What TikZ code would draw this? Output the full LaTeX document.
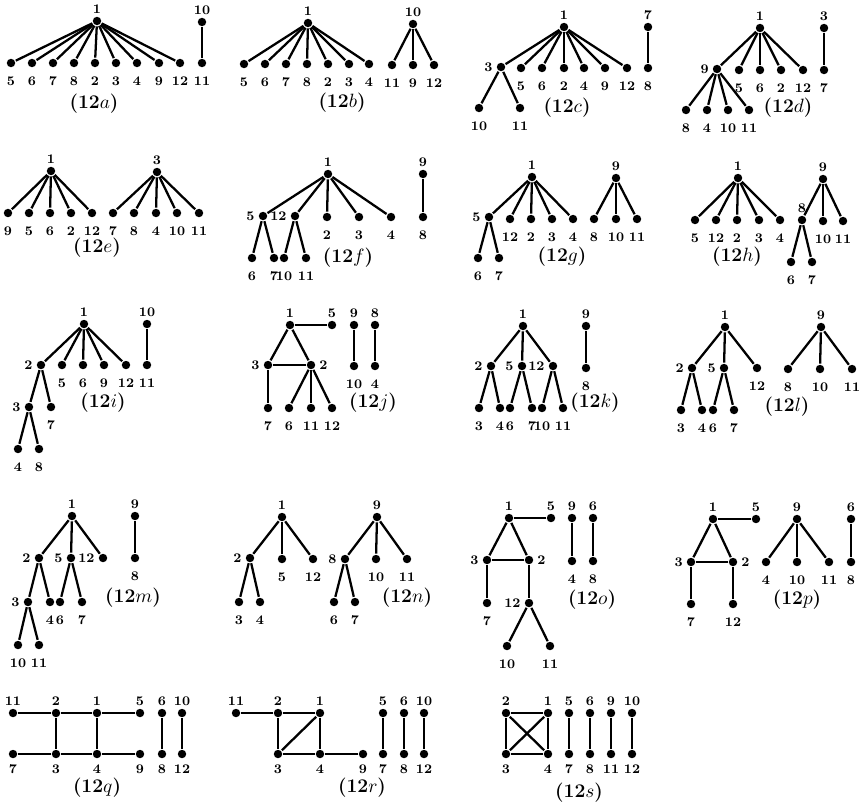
\documentclass[tikz,border=0pt]{standalone}
\usepackage{amsmath}
\usepackage{tikz}

\newcommand{\panelcap}[1]{\textbf{(12}$#1$\textbf{)}}

\tikzset{
  vtx/.style={circle, fill=black, inner sep=0pt, minimum size=4.8pt},
  lbl/.style={font=\bfseries\fontsize{7.5}{8}\selectfont, inner sep=0.6pt},
  lbup/.style={label={[lbl, label distance=0pt]above:#1}},
  lbdn/.style={label={[lbl, label distance=3.6pt]below:#1}},
  lbdb/.style={label={[lbl, label distance=1.6pt]below:#1}},
  lblf/.style={label={[lbl, label distance=0.5pt]left:#1}},
  lbrt/.style={label={[lbl, label distance=0.5pt]right:#1}},
  capt/.style={font=\fontsize{11}{13}\selectfont, inner sep=0pt},
  edge/.style={line width=1.3pt}
}

\begin{document}
\begin{tikzpicture}[x=0.02cm, y=-0.02cm, every path/.style={edge}]
  \useasboundingbox (0,0) rectangle (861,809);

  % (12a)
  \node[vtx, lbup=1] (a1) at (97,21) {};
  \foreach \n/\x in {5/11, 6/32, 7/53, 8/74, 2/95, 3/116, 4/137, 9/159, 12/180} {
    \node[vtx, lbdn=\n] (a\n) at (\x,63) {};
    \draw (a1) -- (a\n);
  }
  \node[vtx, lbup=10] (a10) at (202,22) {};
  \node[vtx, lbdn=11] (a11) at (202,63) {};
  \draw (a10) -- (a11);
  \node[capt] (capa) at (94,104) {\panelcap{a}};

  % (12b)
  \node[vtx, lbup=1] (b1) at (308,23) {};
  \foreach \n/\x in {5/244, 6/265, 7/286, 8/307, 2/328, 3/349, 4/369} {
    \node[vtx, lbdn=\n] (b\n) at (\x,64) {};
    \draw (b1) -- (b\n);
  }
  \node[vtx, lbup=10] (b10) at (413,24) {};
  \foreach \n/\x in {11/392, 9/413, 12/434} {
    \node[vtx, lbdn=\n] (b\n) at (\x,65) {};
    \draw (b10) -- (b\n);
  }
  \node[capt] (capb) at (342,103) {\panelcap{b}};

  % (12c)
  \node[vtx, lbup=1] (c1) at (564,27) {};
  \node[vtx, lblf=3] (c3) at (501,67) {};
  \draw (c1) -- (c3);
  \foreach \n/\x in {5/521, 6/542, 2/564, 4/584, 9/605, 12/627} {
    \node[vtx, lbdn=\n] (c\n) at (\x,68) {};
    \draw (c1) -- (c\n);
  }
  \foreach \n/\x in {10/479, 11/520} {
    \node[vtx, lbdn=\n] (c\n) at (\x,108) {};
    \draw (c3) -- (c\n);
  }
  \node[vtx, lbup=7] (c7) at (648,27) {};
  \node[vtx, lbdn=8] (c8) at (648,68) {};
  \draw (c7) -- (c8);
  \node[capt] (capc) at (567,108) {\panelcap{c}};

  % (12d)
  \node[vtx, lbup=1] (d1) at (760,28) {};
  \node[vtx, lblf=9] (d9) at (717,69) {};
  \draw (d1) -- (d9);
  \foreach \n/\x in {5/739, 6/760, 2/781, 12/803} {
    \node[vtx, lbdn=\n] (d\n) at (\x,70) {};
    \draw (d1) -- (d\n);
  }
  \foreach \n/\x in {8/686, 4/707, 10/728, 11/749} {
    \node[vtx, lbdn=\n] (d\n) at (\x,110) {};
    \draw (d9) -- (d\n);
  }
  \node[vtx, lbup=3] (d3) at (824,28) {};
  \node[vtx, lbdn=7] (d7) at (824,70) {};
  \draw (d3) -- (d7);
  \node[capt] (capd) at (788,108) {\panelcap{d}};

  % (12e)
  \node[vtx, lbup=1] (e1) at (51,171) {};
  \foreach \n/\x in {9/8, 5/29, 6/50, 2/71, 12/92} {
    \node[vtx, lbdn=\n] (e\n) at (\x,213) {};
    \draw (e1) -- (e\n);
  }
  \node[vtx, lbup=3] (e3) at (157,172) {};
  \foreach \n/\x in {7/113, 8/134, 4/156, 10/177, 11/199} {
    \node[vtx, lbdn=\n] (e\n) at (\x,213) {};
    \draw (e3) -- (e\n);
  }
  \node[capt] (cape) at (97,248) {\panelcap{e}};

  % (12f)
  \node[vtx, lbup=1] (f1) at (328,174) {};
  \node[vtx, lblf=5] (f5) at (263,216) {};
  \node[vtx, lblf=12] (f12) at (295,216) {};
  \draw (f1) -- (f5);
  \draw (f1) -- (f12);
  \foreach \n/\x in {2/327, 3/359, 4/391} {
    \node[vtx, lbdn=\n] (f\n) at (\x,217) {};
    \draw (f1) -- (f\n);
  }
  \foreach \p/\n/\x in {5/6/252, 5/7/274, 12/10/284, 12/11/306} {
    \node[vtx, lbdn=\n] (f\n) at (\x,258) {};
    \draw (f\p) -- (f\n);
  }
  \node[vtx, lbup=9] (f9) at (423,174) {};
  \node[vtx, lbdn=8] (f8) at (423,217) {};
  \draw (f9) -- (f8);
  \node[capt] (capf) at (348,258) {\panelcap{f}};

  % (12g)
  \node[vtx, lbup=1] (g1) at (532,177) {};
  \node[vtx, lblf=5] (g5) at (489,217) {};
  \draw (g1) -- (g5);
  \foreach \n/\x in {12/510, 2/531, 3/552, 4/573} {
    \node[vtx, lbdn=\n] (g\n) at (\x,219) {};
    \draw (g1) -- (g\n);
  }
  \foreach \n/\x in {6/478, 7/499} {
    \node[vtx, lbdn=\n] (g\n) at (\x,258) {};
    \draw (g5) -- (g\n);
  }
  \node[vtx, lbup=9] (g9) at (616,178) {};
  \foreach \n/\x in {8/594, 10/616, 11/637} {
    \node[vtx, lbdn=\n] (g\n) at (\x,219) {};
    \draw (g9) -- (g\n);
  }
  \node[capt] (capg) at (562,257) {\panelcap{g}};

  % (12h)
  \node[vtx, lbup=1] (h1) at (738,178) {};
  \foreach \n/\x in {5/695, 12/716, 2/737, 3/759, 4/780} {
    \node[vtx, lbdn=\n] (h\n) at (\x,220) {};
    \draw (h1) -- (h\n);
  }
  \node[vtx, lbup=9] (h9) at (823,179) {};
  \node[vtx, lbup=8] (h8) at (802,220) {};
  \draw (h9) -- (h8);
  \foreach \n/\x in {10/823, 11/843} {
    \node[vtx, lbdn=\n] (h\n) at (\x,221) {};
    \draw (h9) -- (h\n);
  }
  \foreach \n/\x in {6/791, 7/812} {
    \node[vtx, lbdn=\n] (h\n) at (\x,262) {};
    \draw (h8) -- (h\n);
  }
  \node[capt] (caph) at (737,257) {\panelcap{h}};

  % (12i)
  \node[vtx, lbup=1] (i1) at (84,324) {};
  \node[vtx, lblf=2] (i2) at (41,365) {};
  \draw (i1) -- (i2);
  \foreach \n/\x in {5/62, 6/83, 9/104, 12/126} {
    \node[vtx, lbdn=\n] (i\n) at (\x,365) {};
    \draw (i1) -- (i\n);
  }
  \node[vtx, lblf=3] (i3) at (29,407) {};
  \node[vtx, lbdn=7] (i7) at (51,407) {};
  \draw (i2) -- (i3);
  \draw (i2) -- (i7);
  \foreach \n/\x in {4/18, 8/39} {
    \node[vtx, lbdn=\n] (i\n) at (\x,449) {};
    \draw (i3) -- (i\n);
  }
  \node[vtx, lbup=10] (i10) at (147,324) {};
  \node[vtx, lbdn=11] (i11) at (147,365) {};
  \draw (i10) -- (i11);
  \node[capt] (capi) at (103,403) {\panelcap{i}};

  % (12j)
  \node[vtx, lbup=1] (j1) at (290,325) {};
  \node[vtx, lbup=5] (j5) at (332,325) {};
  \node[vtx, lblf=3] (j3) at (268,365) {};
  \node[vtx, lbrt=2] (j2) at (311,365) {};
  \draw (j1) -- (j5);
  \draw (j1) -- (j3);
  \draw (j1) -- (j2);
  \draw (j3) -- (j2);
  \node[vtx, lbdn=7] (j7) at (268,408) {};
  \draw (j3) -- (j7);
  \foreach \n/\x in {6/289, 11/311, 12/332} {
    \node[vtx, lbdn=\n] (j\n) at (\x,408) {};
    \draw (j2) -- (j\n);
  }
  \foreach \t/\b/\x in {9/10/354, 8/4/375} {
    \node[vtx, lbup=\t] (j\t) at (\x,325) {};
    \node[vtx, lbdn=\b] (j\b) at (\x,366) {};
    \draw (j\t) -- (j\b);
  }
  \node[capt] (capj) at (373,403) {\panelcap{j}};

  % (12k)
  \node[vtx, lbup=1] (k1) at (523,326) {};
  \foreach \n/\x in {2/491, 5/522, 12/553} {
    \node[vtx, lblf=\n] (k\n) at (\x,366) {};
    \draw (k1) -- (k\n);
  }
  \foreach \p/\n/\x in {2/3/479, 2/4/500, 5/6/510, 5/7/532, 12/10/542, 12/11/563} {
    \node[vtx, lbdn=\n] (k\n) at (\x,408) {};
    \draw (k\p) -- (k\n);
  }
  \node[vtx, lbup=9] (k9) at (586,326) {};
  \node[vtx, lbdn=8] (k8) at (586,368) {};
  \draw (k9) -- (k8);
  \node[capt] (capk) at (595,403) {\panelcap{k}};

  % (12l)
  \node[vtx, lbup=1] (l1) at (725,327) {};
  \node[vtx, lblf=2] (l2) at (692,368) {};
  \node[vtx, lblf=5] (l5) at (724,368) {};
  \node[vtx, lbdn=12] (l12) at (757,368) {};
  \draw (l1) -- (l2);
  \draw (l1) -- (l5);
  \draw (l1) -- (l12);
  \foreach \p/\n/\x in {2/3/681, 2/4/702, 5/6/713, 5/7/734} {
    \node[vtx, lbdn=\n] (l\n) at (\x,410) {};
    \draw (l\p) -- (l\n);
  }
  \node[vtx, lbup=9] (l9) at (821,327) {};
  \foreach \n/\x in {8/788, 10/820, 11/852} {
    \node[vtx, lbdn=\n] (l\n) at (\x,369) {};
    \draw (l9) -- (l\n);
  }
  \node[capt] (capl) at (787,407) {\panelcap{l}};

  % (12m)
  \node[vtx, lbup=1] (m1) at (72,516) {};
  \foreach \n/\x in {2/39, 5/71, 12/103} {
    \node[vtx, lblf=\n] (m\n) at (\x,558) {};
    \draw (m1) -- (m\n);
  }
  \node[vtx, lblf=3] (m3) at (28,602) {};
  \draw (m2) -- (m3);
  \foreach \p/\n/\x in {2/4/50, 5/6/60, 5/7/82} {
    \node[vtx, lbdn=\n] (m\n) at (\x,602) {};
    \draw (m\p) -- (m\n);
  }
  \foreach \n/\x in {10/18, 11/39} {
    \node[vtx, lbdn=\n] (m\n) at (\x,645) {};
    \draw (m3) -- (m\n);
  }
  \node[vtx, lbup=9] (m9) at (135,516) {};
  \node[vtx, lbdn=8] (m8) at (135,558) {};
  \draw (m9) -- (m8);
  \node[capt] (capm) at (133,598) {\panelcap{m}};

  % (12n)
  \node[vtx, lbup=1] (n1) at (282,517) {};
  \node[vtx, lblf=2] (n2) at (250,558) {};
  \draw (n1) -- (n2);
  \foreach \n/\x in {5/282, 12/313} {
    \node[vtx, lbdn=\n] (n\n) at (\x,559) {};
    \draw (n1) -- (n\n);
  }
  \foreach \n/\x in {3/239, 4/260} {
    \node[vtx, lbdn=\n] (n\n) at (\x,602) {};
    \draw (n2) -- (n\n);
  }
  \node[vtx, lbup=9] (n9) at (377,517) {};
  \node[vtx, lblf=8] (n8) at (345,559) {};
  \draw (n9) -- (n8);
  \foreach \n/\x in {10/376, 11/407} {
    \node[vtx, lbdn=\n] (n\n) at (\x,559) {};
    \draw (n9) -- (n\n);
  }
  \foreach \n/\x in {6/334, 7/355} {
    \node[vtx, lbdn=\n] (n\n) at (\x,602) {};
    \draw (n8) -- (n\n);
  }
  \node[capt] (capn) at (407,598) {\panelcap{n}};

  % (12o)
  \node[vtx, lbup=1] (o1) at (509,518) {};
  \node[vtx, lbup=5] (o5) at (551,518) {};
  \node[vtx, lblf=3] (o3) at (487,560) {};
  \node[vtx, lbrt=2] (o2) at (529,560) {};
  \node[vtx, lbdn=7] (o7) at (487,603) {};
  \node[vtx, lblf=12] (o12) at (529,603) {};
  \draw (o1) -- (o5);
  \draw (o1) -- (o3);
  \draw (o1) -- (o2);
  \draw (o3) -- (o2);
  \draw (o3) -- (o7);
  \draw (o2) -- (o12);
  \foreach \n/\x in {10/507, 11/550} {
    \node[vtx, lbdn=\n] (o\n) at (\x,646) {};
    \draw (o12) -- (o\n);
  }
  \foreach \t/\b/\x in {9/4/572, 6/8/593} {
    \node[vtx, lbup=\t] (o\t) at (\x,518) {};
    \node[vtx, lbdn=\b] (o\b) at (\x,561) {};
    \draw (o\t) -- (o\b);
  }
  \node[capt] (capo) at (592,600) {\panelcap{o}};

  % (12p)
  \node[vtx, lbup=1] (p1) at (713,519) {};
  \node[vtx, lbup=5] (p5) at (756,519) {};
  \node[vtx, lblf=3] (p3) at (691,562) {};
  \node[vtx, lbrt=2] (p2) at (733,562) {};
  \node[vtx, lbdn=7] (p7) at (691,604) {};
  \node[vtx, lbdn=12] (p12) at (733,604) {};
  \draw (p1) -- (p5);
  \draw (p1) -- (p3);
  \draw (p1) -- (p2);
  \draw (p3) -- (p2);
  \draw (p3) -- (p7);
  \draw (p2) -- (p12);
  \node[vtx, lbup=9] (p9) at (797,519) {};
  \foreach \n/\x in {4/766, 10/797, 11/829} {
    \node[vtx, lbdn=\n] (p\n) at (\x,562) {};
    \draw (p9) -- (p\n);
  }
  \node[vtx, lbup=6] (p6) at (851,519) {};
  \node[vtx, lbdn=8] (p8) at (851,562) {};
  \draw (p6) -- (p8);
  \node[capt] (capp) at (797,600) {\panelcap{p}};

  % (12q)
  \foreach \n/\x in {11/13, 2/56, 1/97, 5/140} {
    \node[vtx, lbup=\n] (q\n) at (\x,713) {};
  }
  \foreach \n/\x in {7/13, 3/56, 4/97, 9/140} {
    \node[vtx, lbdb=\n] (q\n) at (\x,754) {};
  }
  \draw (q11) -- (q2) -- (q1) -- (q5);
  \draw (q7) -- (q3) -- (q4) -- (q9);
  \draw (q2) -- (q3);
  \draw (q1) -- (q4);
  \foreach \t/\b/\x in {6/8/162, 10/12/182} {
    \node[vtx, lbup=\t] (q\t) at (\x,713) {};
    \node[vtx, lbdb=\b] (q\b) at (\x,754) {};
    \draw (q\t) -- (q\b);
  }
  \node[capt] (capq) at (97,788) {\panelcap{q}};

  % (12r)
  \foreach \n/\x in {11/236, 2/278, 1/320} {
    \node[vtx, lbup=\n] (r\n) at (\x,713) {};
  }
  \foreach \n/\x in {3/278, 4/320, 9/363} {
    \node[vtx, lbdb=\n] (r\n) at (\x,754) {};
  }
  \draw (r11) -- (r2) -- (r1) -- (r4) -- (r9);
  \draw (r2) -- (r3) -- (r4);
  \draw (r3) -- (r1);
  \foreach \t/\b/\x in {5/7/383, 6/8/404, 10/12/424} {
    \node[vtx, lbup=\t] (r\t) at (\x,713) {};
    \node[vtx, lbdb=\b] (r\b) at (\x,754) {};
    \draw (r\t) -- (r\b);
  }
  \node[capt] (capr) at (362,788) {\panelcap{r}};

  % (12s)
  \node[vtx, lbup=2] (s2) at (506,713) {};
  \node[vtx, lbup=1] (s1) at (548,713) {};
  \node[vtx, lbdb=3] (s3) at (506,754) {};
  \node[vtx, lbdb=4] (s4) at (548,754) {};
  \draw (s2) -- (s1) -- (s4) -- (s3) -- (s2);
  \draw (s2) -- (s4);
  \draw (s1) -- (s3);
  \foreach \t/\b/\x in {5/7/569, 6/8/590, 9/11/611, 10/12/632} {
    \node[vtx, lbup=\t] (s\t) at (\x,713) {};
    \node[vtx, lbdb=\b] (s\b) at (\x,754) {};
    \draw (s\t) -- (s\b);
  }
  \node[capt] (caps) at (579,793) {\panelcap{s}};
\end{tikzpicture}
\end{document}
